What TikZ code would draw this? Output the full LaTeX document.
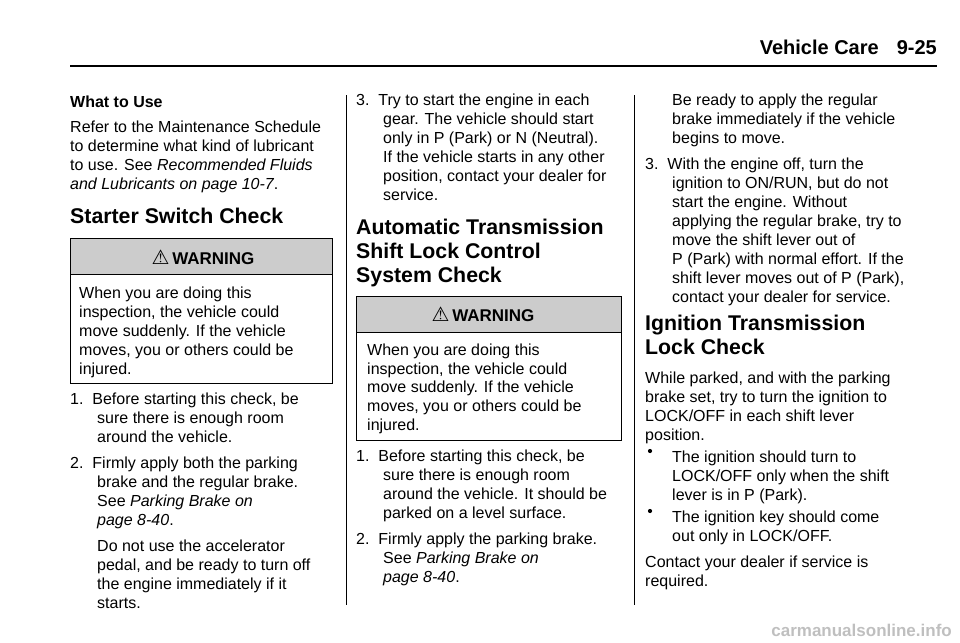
\documentclass[tikz,border=0pt]{standalone}
\usepackage{fontspec}
\setmainfont{Liberation Sans}
\newfontfamily\dvs{DejaVu Sans}
\newcounter{ln}
\newcommand{\tl}[4][]{\stepcounter{ln}\node[txt,#1] (l\theln) at (#2,#3) {#4};}
\begin{document}
\begin{tikzpicture}[x=1pt,y=-1pt,
  txt/.style={anchor=base west,inner sep=0pt,font=\fontsize{16}{18}\selectfont},
  head/.style={anchor=base west,inner sep=0pt,font=\fontsize{21.3}{26}\selectfont\bfseries},
  wbox/.style={draw=black,line width=0.8pt},
  wband/.style={fill=black!20,draw=black,line width=0.8pt}]
\useasboundingbox (0,0) rectangle (960,642);
% header
\node[anchor=base east,inner sep=0pt,font=\fontsize{20}{24}\selectfont\bfseries] (hdr) at (937,55) {Vehicle Care\hspace{18pt}9-25};
\draw[line width=2.5pt] (70,66) -- (937,66);
\draw[line width=0.6pt] (346,95) -- (346,605);
\draw[line width=0.6pt] (634,95) -- (634,605);
% column 1
\tl[font=\fontsize{16}{18}\selectfont\bfseries]{70}{107}{What to Use}
\tl{70}{132}{Refer to the Maintenance Schedule}
\tl{70}{151}{to determine what kind of lubricant}
\tl{70}{170}{to use. See \textit{Recommended Fluids}}
\tl{70}{189}{\textit{and Lubricants on page 10-7}.}
\tl[head]{70}{223}{Starter Switch Check}
\draw[wband] (70,238) rectangle (332,274);
\draw[wbox] (70,274) rectangle (332,383);
\node[anchor=base,inner sep=0pt,font=\fontsize{17}{18}\selectfont\bfseries] (w1) at (203,264) {{\dvs\fontsize{20}{18}\selectfont ⚠}\,WARNING};
\tl{79}{298}{When you are doing this}
\tl{79}{317}{inspection, the vehicle could}
\tl{79}{336}{move suddenly. If the vehicle}
\tl{79}{355}{moves, you or others could be}
\tl{79}{374}{injured.}
\tl{70}{404}{1.\ \ Before starting this check, be}
\tl{97}{423}{sure there is enough room}
\tl{97}{442}{around the vehicle.}
\tl{70}{468}{2.\ \ Firmly apply both the parking}
\tl{97}{487}{brake and the regular brake.}
\tl{97}{506}{See \textit{Parking Brake on}}
\tl{97}{525}{\textit{page 8-40}.}
\tl{97}{551}{Do not use the accelerator}
\tl{97}{570}{pedal, and be ready to turn off}
\tl{97}{589}{the engine immediately if it}
\tl{97}{608}{starts.}
% column 2
\tl{356}{105}{3.\ \ Try to start the engine in each}
\tl{383}{124}{gear. The vehicle should start}
\tl{383}{143}{only in P (Park) or N (Neutral).}
\tl{383}{162}{If the vehicle starts in any other}
\tl{383}{181}{position, contact your dealer for}
\tl{383}{200}{service.}
\tl[head]{356}{234}{Automatic Transmission}
\tl[head]{356}{258}{Shift Lock Control}
\tl[head]{356}{282}{System Check}
\draw[wband] (356,296) rectangle (621,332);
\draw[wbox] (356,332) rectangle (621,440);
\node[anchor=base,inner sep=0pt,font=\fontsize{17}{18}\selectfont\bfseries] (w2) at (483,321) {{\dvs\fontsize{20}{18}\selectfont ⚠}\,WARNING};
\tl{367}{355}{When you are doing this}
\tl{367}{374}{inspection, the vehicle could}
\tl{367}{392}{move suddenly. If the vehicle}
\tl{367}{411}{moves, you or others could be}
\tl{367}{430}{injured.}
\tl{356}{461}{1.\ \ Before starting this check, be}
\tl{383}{480}{sure there is enough room}
\tl{383}{499}{around the vehicle. It should be}
\tl{383}{518}{parked on a level surface.}
\tl{356}{544}{2.\ \ Firmly apply the parking brake.}
\tl{383}{563}{See \textit{Parking Brake on}}
\tl{383}{582}{\textit{page 8-40}.}
% column 3
\tl{672}{105}{Be ready to apply the regular}
\tl{672}{124}{brake immediately if the vehicle}
\tl{672}{143}{begins to move.}
\tl{645}{169}{3.\ \ With the engine off, turn the}
\tl{672}{188}{ignition to ON/RUN, but do not}
\tl{672}{207}{start the engine. Without}
\tl{672}{226}{applying the regular brake, try to}
\tl{672}{245}{move the shift lever out of}
\tl{672}{264}{P (Park) with normal effort. If the}
\tl{672}{283}{shift lever moves out of P (Park),}
\tl{672}{302}{contact your dealer for service.}
\tl[head]{645}{330}{Ignition Transmission}
\tl[head]{645}{354}{Lock Check}
\tl{645}{383}{While parked, and with the parking}
\tl{645}{402}{brake set, try to turn the ignition to}
\tl{645}{421}{LOCK/OFF in each shift lever}
\tl{645}{440}{position.}
\fill (650,451) circle (2.1pt);
\tl{672}{462}{The ignition should turn to}
\tl{672}{481}{LOCK/OFF only when the shift}
\tl{672}{500}{lever is in P (Park).}
\fill (650,511) circle (2.1pt);
\tl{672}{522}{The ignition key should come}
\tl{672}{541}{out only in LOCK/OFF.}
\tl{645}{567}{Contact your dealer if service is}
\tl{645}{586}{required.}
\node[anchor=base east,inner sep=0pt,text=black!25,font=\fontsize{17}{20}\selectfont\bfseries] (wm) at (952,636) {carmanualsonline.info};
\end{tikzpicture}
\end{document}
